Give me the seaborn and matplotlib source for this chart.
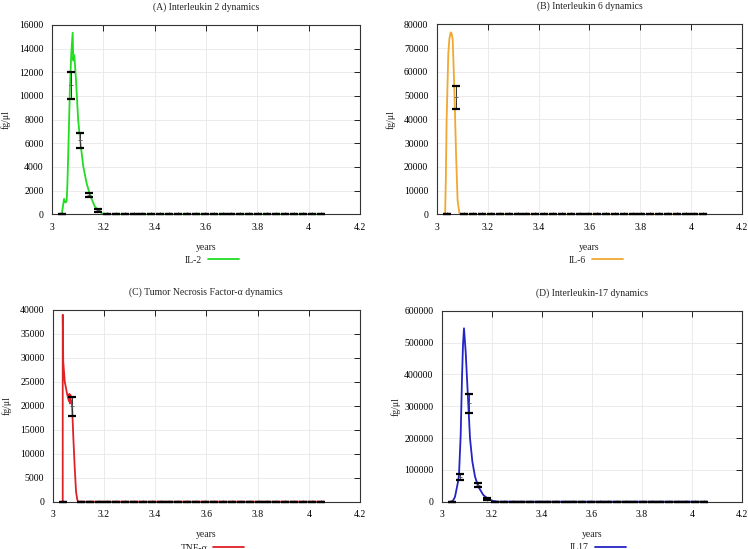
import matplotlib
matplotlib.use("Agg")
import matplotlib.pyplot as plt
from matplotlib.ticker import FuncFormatter
import numpy as np
import pandas as pd
import seaborn as sns

# observation times (years) shared by all four panels
obs_t = [3.040, 3.075, 3.109, 3.144, 3.179, 3.213, 3.248, 3.283, 3.318, 3.352,
         3.387, 3.422, 3.456, 3.491, 3.526, 3.561, 3.595, 3.630, 3.665, 3.699,
         3.734, 3.769, 3.804, 3.838, 3.873, 3.908, 3.942, 3.977, 4.012, 4.047]

# (A) IL-2
il2_t = [3.038, 3.047, 3.052, 3.057, 3.060, 3.065, 3.070, 3.075, 3.0805, 3.083,
         3.0844, 3.087, 3.0935, 3.102, 3.111, 3.122, 3.135, 3.148, 3.167, 3.187,
         3.200, 4.060]
il2_v = [0, 1300, 1000, 1070, 2500, 6500, 10800, 13500, 15350, 13000,
         13300, 13450, 11350, 7970, 6000, 4030, 2620, 1630, 650, 225,
         0, 0]
il2_obs = [0, 10900, 6240, 1660, 320, 0, 0, 0, 0, 0, 0, 0, 0, 0, 0,
           0, 0, 0, 0, 0, 0, 0, 0, 0, 0, 0, 0, 0, 0, 0]
il2_err = [0, 1130, 610, 170, 100, 0, 0, 0, 0, 0, 0, 0, 0, 0, 0,
           0, 0, 0, 0, 0, 0, 0, 0, 0, 0, 0, 0, 0, 0, 0]

# (B) IL-6
il6_t = [3.033, 3.036, 3.039, 3.0457, 3.050, 3.055, 3.059, 3.063, 3.069,
         3.076, 3.082, 3.089, 3.095, 4.060]
il6_v = [0, 15000, 39700, 67800, 74000, 76600, 76000, 73400, 53800,
         25700, 6000, 500, 0, 0]
il6_obs = [0, 49300, 0, 0, 0, 0, 0, 0, 0, 0, 0, 0, 0, 0, 0,
           0, 0, 0, 0, 0, 0, 0, 0, 0, 0, 0, 0, 0, 0, 0]
il6_err = [0, 4900, 0, 0, 0, 0, 0, 0, 0, 0, 0, 0, 0, 0, 0,
           0, 0, 0, 0, 0, 0, 0, 0, 0, 0, 0, 0, 0, 0, 0]

# (C) TNF-alpha
tnf_t = [3.039, 3.0391, 3.041, 3.047, 3.057, 3.063, 3.065, 3.067, 3.069,
         3.071, 3.074, 3.076, 3.080, 3.086, 3.091, 3.096, 3.100, 4.060]
tnf_v = [0, 39000, 29200, 25000, 22270, 21000, 22500, 20500, 22300,
         20800, 21000, 19500, 13900, 6960, 2090, 350, 0, 0]
tnf_obs = [0, 19900, 0, 0, 0, 0, 0, 0, 0, 0, 0, 0, 0, 0, 0,
           0, 0, 0, 0, 0, 0, 0, 0, 0, 0, 0, 0, 0, 0, 0]
tnf_err = [0, 2000, 0, 0, 0, 0, 0, 0, 0, 0, 0, 0, 0, 0, 0,
           0, 0, 0, 0, 0, 0, 0, 0, 0, 0, 0, 0, 0, 0, 0]

# (D) IL-17
il17_t = [3.035, 3.045, 3.053, 3.060, 3.065, 3.069, 3.0758, 3.081, 3.085,
          3.089, 3.0957, 3.101, 3.1064, 3.113, 3.1224, 3.133, 3.1463, 3.166,
          3.186, 3.206, 3.225, 4.060]
il17_v = [0, 3000, 15000, 41900, 62000, 84000, 209000, 387000, 492000,
          544600, 471000, 387000, 304000, 199000, 126000, 78500, 47000, 21000,
          8400, 2000, 0, 0]
il17_obs = [0, 77000, 308500, 51300, 9400, 0, 0, 0, 0, 0, 0, 0, 0, 0, 0,
            0, 0, 0, 0, 0, 0, 0, 0, 0, 0, 0, 0, 0, 0, 0]
il17_err = [0, 8900, 30900, 6300, 3100, 0, 0, 0, 0, 0, 0, 0, 0, 0, 0,
            0, 0, 0, 0, 0, 0, 0, 0, 0, 0, 0, 0, 0, 0, 0]

sns.set_theme(style="white")
plt.rcParams["font.family"] = ["Liberation Serif", "DejaVu Serif"]

fig = plt.figure(figsize=(7.48, 5.49), dpi=100)

panels = [
    ([0.0695, 0.6097, 0.4118, 0.3448], "(A) Interleukin 2 dynamics", "IL-2",
     il2_t, il2_v, il2_obs, il2_err, "#22dd22", 16000, 2000),
    ([0.5838, 0.6097, 0.4086, 0.3461], "(B) Interleukin 6 dynamics", "IL-6",
     il6_t, il6_v, il6_obs, il6_err, "#f0a830", 80000, 10000),
    ([0.0705, 0.0862, 0.4108, 0.3492], "(C) Tumor Necrosis Factor-α dynamics", "TNF-α",
     tnf_t, tnf_v, tnf_obs, tnf_err, "#dd2228", 40000, 5000),
    ([0.5905, 0.0862, 0.4019, 0.3479], "(D) Interleukin-17 dynamics", "IL17",
     il17_t, il17_v, il17_obs, il17_err, "#2424c4", 600000, 100000),
]

fs = 7
for rect, title, name, t, v, obs, err, col, ymax, ystep in panels:
    ax = fig.add_axes(rect)
    df = pd.DataFrame({"t": t, "v": v})
    sns.lineplot(data=df, x="t", y="v", ax=ax, color=col, lw=1.3,
                 label=name, sort=False, estimator=None, zorder=3)

    # error bars: thin stem, mean marker, thick black caps
    obs_a = np.array(obs, dtype=float)
    err_a = np.array(err, dtype=float)
    ax.errorbar(obs_t, obs_a, yerr=err_a, fmt="+", color="#555555", ms=3,
                mew=0.6, ecolor="#333333", elinewidth=0.7, capsize=0, zorder=4)
    for edge in (obs_a - err_a, obs_a + err_a):
        ax.plot(obs_t, edge, ls="none", marker="_", ms=6.4, mew=1.6,
                color="black", zorder=5, clip_on=False)

    ax.set_xlim(3, 4.2)
    ax.set_ylim(0, ymax)
    ax.set_xticks(np.arange(3, 4.21, 0.2))
    ax.set_yticks(np.arange(0, ymax + 1, ystep))
    ax.xaxis.set_major_formatter(FuncFormatter(lambda x, p: "%g" % round(x, 2)))
    ax.yaxis.set_major_formatter(FuncFormatter(lambda y, p: "%d" % y))
    ax.tick_params(direction="in", top=True, right=True, length=4, width=0.6,
                   labelsize=fs, pad=6, colors="black")
    ax.grid(True, color="#e8e8e8", lw=0.6)
    for s in ax.spines.values():
        s.set_color("#333333")
        s.set_linewidth(0.8)

    ax.set_title(title, fontsize=fs, pad=11)
    ax.set_xlabel("years", fontsize=fs)
    ax.set_ylabel("fg/μl", fontsize=fs)
    ax.xaxis.set_label_coords(0.5, -0.15)
    ax.yaxis.set_label_coords(-0.135, 0.5)
    ax.legend(loc="upper center", bbox_to_anchor=(0.52, -0.198), frameon=False,
              markerfirst=False, handlelength=3.2, fontsize=fs,
              borderaxespad=0, handletextpad=0.6)

fig.savefig("out.png", dpi=100)
